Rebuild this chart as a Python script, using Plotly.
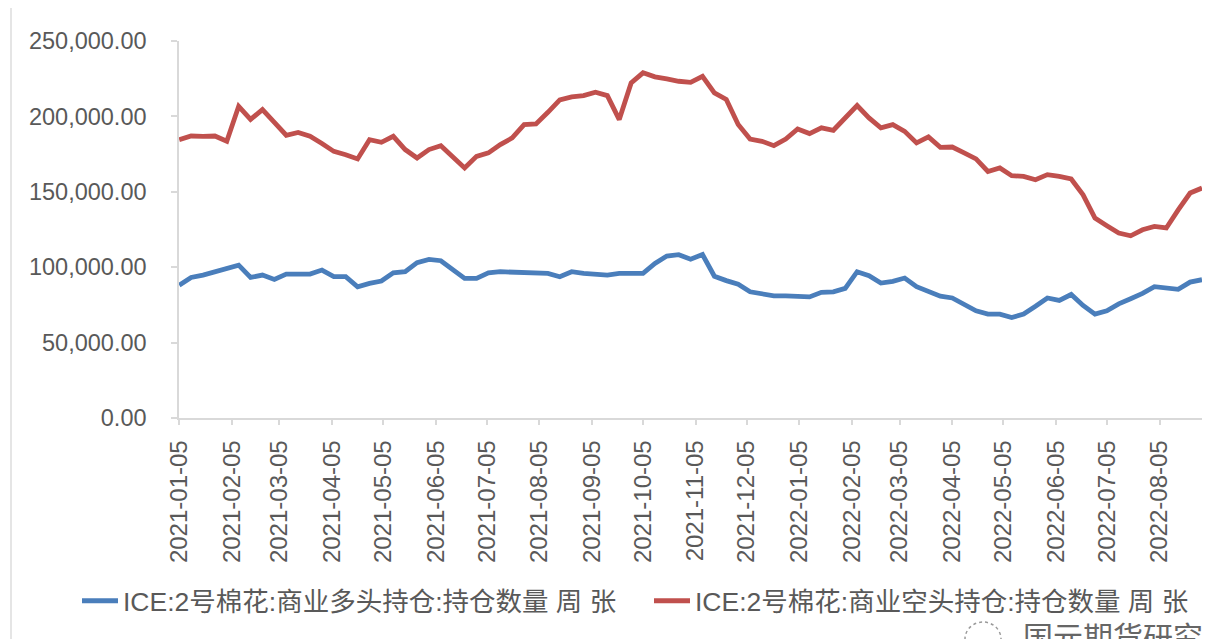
import pandas as pd
import plotly.graph_objects as go

# Weekly dates (CFTC Tuesdays)
dates = pd.date_range("2021-01-05", periods=87, freq="7D")

long_name = "ICE:2号棉花:商业多头持仓:持仓数量 周 张"
short_name = "ICE:2号棉花:商业空头持仓:持仓数量 周 张"

long_k = [88.1, 93.2, 94.8, 97.0, 99.2, 101.4, 93.2, 94.8, 91.9, 95.4,
          95.4, 95.4, 98.1, 93.7, 93.7, 87.0, 89.3, 90.8, 96.3, 97.0,
          103.0, 105.2, 104.3, 98.6, 92.6, 92.6, 96.3, 97.0, 96.6, 96.3,
          95.9, 95.9, 93.7, 97.0, 95.9, 95.2, 94.8, 95.9, 95.9, 95.9,
          102.5, 107.4, 108.3, 105.3, 108.4, 94.0, 91.1, 88.7, 83.7, 82.6,
          81.0, 81.0, 80.8, 80.3, 83.3, 83.7, 86.0, 97.0, 94.4, 89.5,
          90.6, 92.8, 87.1, 84.2, 80.8, 79.6, 75.7, 71.1, 68.9, 68.9,
          66.6, 68.9, 74.1, 79.6, 78.0, 81.9, 74.6, 68.9, 71.1, 75.7,
          79.1, 82.6, 87.1, 86.0, 85.3, 90.1, 91.7]

short_k = [184.6, 187.0, 186.8, 187.0, 183.5, 206.7, 198.0, 204.5, 196.0, 187.5,
           189.4, 186.8, 182.0, 176.8, 174.6, 171.8, 184.6, 182.8, 186.8, 178.0,
           172.4, 178.0, 180.6, 173.5, 165.8, 173.5, 175.8, 181.3, 185.7, 194.5,
           195.0, 202.7, 211.0, 213.0, 213.8, 216.0, 213.8, 197.9, 222.2, 228.9,
           226.2, 224.9, 223.3, 222.6, 226.6, 215.6, 211.2, 194.6, 185.0, 183.5,
           180.6, 185.0, 191.7, 188.6, 192.4, 190.8, 199.0, 207.2, 199.0, 192.4,
           194.5, 190.1, 182.4, 186.4, 179.5, 179.7, 175.8, 171.8, 163.5, 165.8,
           160.7, 160.2, 158.0, 161.4, 160.2, 158.5, 148.0, 132.6, 127.5, 122.6,
           120.8, 124.8, 127.0, 126.0, 138.0, 149.2, 152.5]

long_vals = [v * 1000 for v in long_k]
short_vals = [v * 1000 for v in short_k]

tick_dates = pd.date_range("2021-01-01", "2022-08-01", freq="MS") + pd.Timedelta(days=4)
tick_text = [d.strftime("%Y-%m-%d") for d in tick_dates]

BLUE = "#4a7ebb"
RED = "#c0504d"
GRAY_TXT = "#595959"
AXIS = "#d9d9d9"
FONT = "Liberation Sans, Noto Sans CJK SC, sans-serif"

# page body has an 8px margin, so the figure is drawn 8px smaller and offset
W, H = 1216, 631
L, R, T, B = 171, 22, 33, 221
PW, PH = W - L - R, H - T - B

fig = go.Figure()
fig.add_trace(go.Scatter(x=dates, y=long_vals, mode="lines", name=long_name,
                         line=dict(color=BLUE, width=4.8)))
fig.add_trace(go.Scatter(x=dates, y=short_vals, mode="lines", name=short_name,
                         line=dict(color=RED, width=4.8)))

fig.update_layout(
    width=W, height=H,
    margin=dict(l=L, r=R, t=T, b=B, autoexpand=False),
    paper_bgcolor="white", plot_bgcolor="white",
    font=dict(family=FONT, color=GRAY_TXT, size=22),
    showlegend=True,
    legend=dict(orientation="h", x=(69 - L) / PW, xanchor="left",
                y=-(593 - (T + PH)) / PH, yanchor="middle",
                font=dict(size=26.5, color=GRAY_TXT, family=FONT),
                itemwidth=36, entrywidth=521, entrywidthmode="pixels",
                bgcolor="rgba(0,0,0,0)"),
)
fig.update_xaxes(
    type="date", range=[dates[0] - pd.Timedelta(hours=3), dates[-1]],
    tickvals=tick_dates, ticktext=tick_text, tickangle=-90,
    showgrid=False, showline=True, linecolor=AXIS, linewidth=1.5,
    ticks="outside", ticklen=5, tickcolor=AXIS, tickwidth=1.5,
    tickfont=dict(size=24, color=GRAY_TXT, family=FONT), zeroline=False,
    ticklabelstandoff=6, automargin=False,
)
fig.update_yaxes(
    range=[0, 250000], dtick=50000, tickformat=",.2f",
    showgrid=False, showline=True, linecolor=AXIS, linewidth=1.5,
    ticks="outside", ticklen=6, tickcolor=AXIS, tickwidth=1.5,
    tickfont=dict(size=23.5, color=GRAY_TXT, family=FONT), zeroline=False,
    ticklabelstandoff=20, automargin=False,
)

# left border of original picture
fig.add_shape(type="line", xref="paper", yref="paper",
              x0=(3 - L) / PW, x1=(3 - L) / PW, y0=-B / PH, y1=1 + T / PH,
              line=dict(color="#dcdcdc", width=1.5))

# watermark logo ring and text (partly cut off at the bottom, as in the source)
fig.add_shape(type="circle", xref="paper", yref="paper",
              x0=(957 - L) / PW, x1=(993 - L) / PW,
              y0=-(648 - (T + PH)) / PH, y1=-(614 - (T + PH)) / PH,
              line=dict(color="#9a9a9a", width=1.5, dash="dot"))
fig.add_annotation(text="国元期货研究", xref="paper", yref="paper",
                   x=(1105 - L) / PW, y=-(611 - (T + PH)) / PH, xanchor="center", yanchor="top",
                   showarrow=False, font=dict(size=30, color="#666666", family=FONT))

fig.write_html("out.html")
